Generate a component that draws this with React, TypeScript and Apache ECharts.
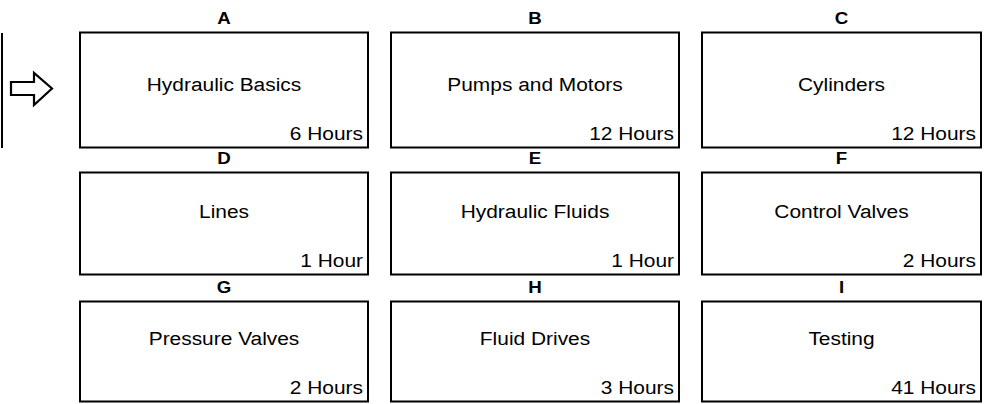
import React, { useEffect, useRef } from "react";
import * as echarts from "echarts";

// ---- data ----
const codes = ["A", "B", "C", "D", "E", "F", "G", "H", "I"];
const titles = [
  "Hydraulic Basics",
  "Pumps and Motors",
  "Cylinders",
  "Lines",
  "Hydraulic Fluids",
  "Control Valves",
  "Pressure Valves",
  "Fluid Drives",
  "Testing",
];
const hours = [6, 12, 12, 1, 1, 2, 2, 3, 41];
const columns = ["col1", "col2", "col3"];
const rows = ["row1", "row2", "row3"];

// ---- layout (not data) ----
const boxWidths = [288, 288, 279];
const boxHeights = [115, 102, 100];
const BOX_INSET = 23;
const FONT = "'Liberation Sans', Arial, Helvetica, sans-serif";

function hoursLabel(h: number) {
  return h + (h === 1 ? " Hour" : " Hours");
}

export default function App() {
  const ref = useRef<HTMLDivElement>(null);
  useEffect(() => {
    if (!ref.current) return;
    const chart = echarts.init(ref.current, undefined, { renderer: "svg" });
    const data = codes.map((c, i) => ({
      name: c,
      value: [i % 3, Math.floor(i / 3)],
    }));
    chart.setOption({
      animation: false,
      backgroundColor: "#ffffff",
      grid: { left: 57, top: 21, width: 933, height: 381, outerBoundsMode: "none" },
      xAxis: { type: "category", data: columns, show: false },
      yAxis: { type: "category", data: rows, inverse: true, show: false },
      graphic: [
        {
          type: "line",
          shape: { x1: 2, y1: 33, x2: 2, y2: 148 },
          style: { stroke: "#000", lineWidth: 2 },
          silent: true,
        },
        {
          type: "polygon",
          shape: {
            points: [
              [11, 82],
              [34, 82],
              [34, 73],
              [52, 88.5],
              [34, 105],
              [34, 95],
              [11, 95],
            ],
          },
          style: { fill: "#fff", stroke: "#000", lineWidth: 2.2 },
          silent: true,
        },
      ],
      series: [
        {
          type: "custom",
          silent: true,
          clip: false,
          data,
          renderItem: (params: any, api: any) => {
            const col = api.value(0) as number;
            const row = api.value(1) as number;
            const idx = params.dataIndex;
            const pt = api.coord([col, row]);
            const sz = api.size([1, 1]);
            const bandLeft = pt[0] - sz[0] / 2;
            const w = boxWidths[col];
            const h = boxHeights[row];
            const bottom = pt[1] + sz[1] / 2 - 0.5;
            const left = bandLeft + BOX_INSET;
            const cx = left + w / 2;
            const top = bottom - h;
            return {
              type: "group",
              children: [
                {
                  type: "rect",
                  shape: { x: left, y: top, width: w, height: h },
                  style: { fill: "#fff", stroke: "#000", lineWidth: 2 },
                },
                {
                  type: "text",
                  x: cx,
                  y: top - 14,
                  scaleX: 1.1,
                  style: {
                    text: codes[idx],
                    fill: "#000",
                    fontSize: 17,
                    fontWeight: "bold",
                    fontFamily: FONT,
                    align: "center",
                    verticalAlign: "middle",
                  },
                },
                {
                  type: "text",
                  x: cx,
                  y: bottom - 63,
                  scaleX: 1.1,
                  style: {
                    text: titles[idx],
                    fill: "#000",
                    fontSize: 19,
                    fontFamily: FONT,
                    align: "center",
                    verticalAlign: "middle",
                  },
                },
                {
                  type: "text",
                  x: left + w - 5,
                  y: bottom - 14,
                  scaleX: 1.1,
                  style: {
                    text: hoursLabel(hours[idx]),
                    fill: "#000",
                    fontSize: 19,
                    fontFamily: FONT,
                    align: "right",
                    verticalAlign: "middle",
                  },
                },
              ],
            };
          },
        },
      ],
    });
    return () => chart.dispose();
  }, []);
  return (
    <div
      ref={ref}
      style={{ position: "absolute", left: 0, top: 0, width: 990, height: 404 }}
    />
  );
}
